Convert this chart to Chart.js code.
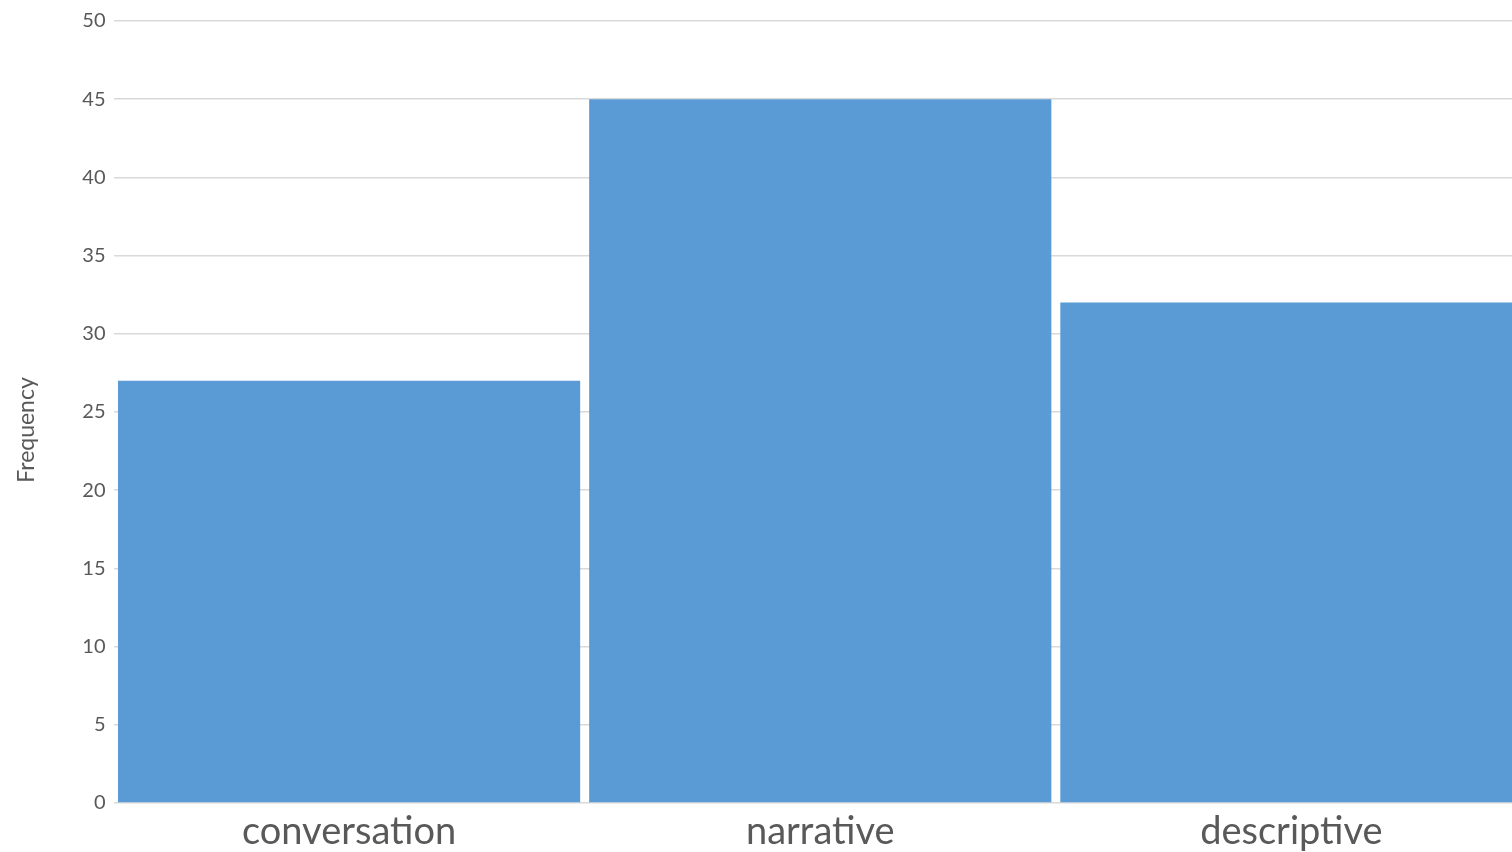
<!DOCTYPE html>
<html>
<head>
<meta charset="utf-8">
<script src="https://cdn.jsdelivr.net/npm/chart.js@4/dist/chart.umd.min.js"></script>
<style>
  html, body { margin: 0; padding: 0; overflow: hidden; background: #ffffff; }
  #wrap { position: absolute; left: 0; top: 0; width: 1527px; height: 852px; }
</style>
</head>
<body>
<div id="wrap"><canvas id="c"></canvas></div>
<script>
const categories = ["conversation", "narrative", "descriptive"];
const frequencies = [27, 45, 32];
const yTitle = "Frequency";
const yMin = 0;
const yMax = 50;
const yStep = 5;

const textColor = "#595959";
const gridColor = "#d9d9d9";
const barColor = "#5b9bd5";

// Draws the y-axis title slightly below the plot centre, as in the reference.
const yTitlePlugin = {
  id: "yTitlePlugin",
  afterDraw(chart) {
    const { ctx, chartArea } = chart;
    ctx.save();
    ctx.translate(27, (chartArea.top + chartArea.bottom) / 2 + 18);
    ctx.rotate(-Math.PI / 2);
    ctx.fillStyle = textColor;
    ctx.font = "23px Lato";
    ctx.textAlign = "center";
    ctx.textBaseline = "middle";
    ctx.fillText(yTitle, 0, 0);
    ctx.restore();
  }
};

new Chart(document.getElementById("c"), {
  type: "bar",
  data: {
    labels: categories,
    datasets: [{
      label: yTitle,
      data: frequencies,
      backgroundColor: barColor,
      borderWidth: 0,
      categoryPercentage: 1.0,
      barPercentage: 0.981
    }]
  },
  plugins: [yTitlePlugin],
  options: {
    responsive: true,
    maintainAspectRatio: false,
    animation: false,
    layout: { padding: { top: 21, right: 0, bottom: 0, left: 0 } },
    plugins: {
      legend: { display: false },
      tooltip: { enabled: false }
    },
    scales: {
      x: {
        grid: { display: false, drawTicks: false },
        border: { display: false },
        ticks: {
          color: textColor,
          font: { family: "Lato", size: 38 },
          padding: 6,
          maxRotation: 0,
          autoSkip: false
        },
        afterFit: s => { s.height = 49; }
      },
      y: {
        min: yMin,
        max: yMax,
        grid: { color: gridColor, lineWidth: 1.5, drawTicks: false },
        border: { display: false },
        ticks: {
          stepSize: yStep,
          color: textColor,
          font: { family: "Lato", size: 20 },
          padding: 8
        },
        title: { display: false, text: yTitle },
        afterFit: s => { s.width = 113.5; }
      }
    }
  }
});
</script>
</body>
</html>
